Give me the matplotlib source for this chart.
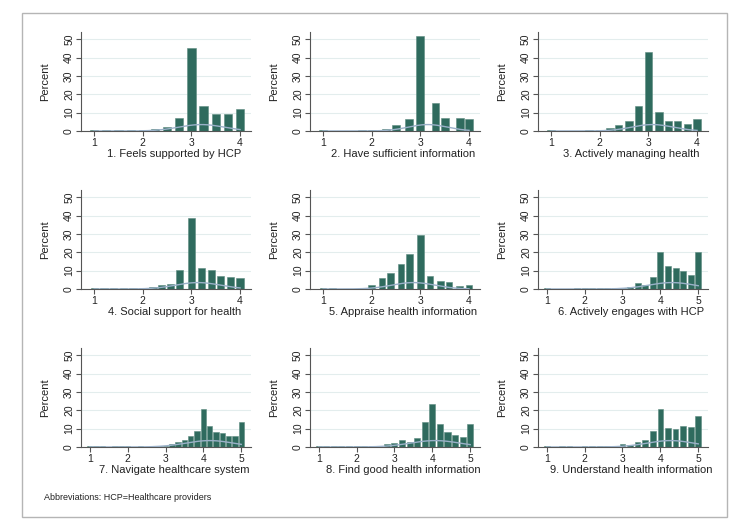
import numpy as np
import matplotlib.pyplot as plt
from matplotlib.patches import Rectangle

plt.rcParams['font.family'] = ['Liberation Sans', 'DejaVu Sans']

# panel titles
titles = ["1. Feels supported by HCP", "2. Have sufficient information", "3. Actively managing health",
          "4. Social support for health", "5. Appraise health information", "6. Actively engages with HCP",
          "7. Navigate healthcare system", "8. Find good health information", "9. Understand health information"]

# scale scores (bar positions) and percent of respondents
supported_x = [1, 1.25, 1.5, 1.75, 2, 2.25, 2.5, 2.75, 3, 3.25, 3.5, 3.75, 4]
supported_pct = [0.3, 0.3, 0.3, 0.3, 0.5, 0.9, 2.4, 7.1, 45.1, 13.5, 9.4, 9.0, 11.9]

information_x = [1, 1.8, 2, 2.3, 2.5, 2.77, 3, 3.31, 3.5, 3.81, 4]
information_pct = [0.3, 0.3, 0.3, 1.3, 3.4, 6.4, 51.7, 15.5, 7.1, 6.9, 6.5]

managing_x = [1, 1.78, 2, 2.21, 2.38, 2.6, 2.8, 3, 3.22, 3.41, 3.6, 3.81, 4]
managing_pct = [0.3, 0.3, 0.6, 1.4, 3.1, 5.6, 13.5, 43.3, 10.1, 5.6, 5.6, 3.8, 6.7]

social_x = [1, 1.2, 1.4, 1.6, 1.8, 2, 2.21, 2.39, 2.57, 2.76, 3, 3.2, 3.41, 3.6, 3.8, 4]
social_pct = [0.3, 0.3, 0.3, 0.3, 0.3, 0.6, 1.1, 2.2, 2.9, 10.1, 38.9, 11.6, 10.5, 7.1, 6.5, 6.2]

appraise_x = [1, 1.2, 1.8, 2, 2.21, 2.39, 2.6, 2.78, 3, 3.2, 3.41, 3.59, 3.8, 4]
appraise_pct = [0.3, 0.4, 0.3, 2.2, 6.2, 8.5, 13.4, 19.2, 29.5, 7.1, 4.5, 3.8, 1.6, 2.4]

engages_x = [1, 1.8, 2, 2.2, 2.4, 2.6, 2.8, 3, 3.2, 3.4, 3.6, 3.8, 4, 4.2, 4.4, 4.6, 4.8, 5]
engages_pct = [0.5, 0.3, 0.3, 0.3, 0.3, 0.5, 0.5, 0.3, 1.0, 3.1, 2.3, 6.3, 20.0, 12.6, 11.3, 9.9, 7.9, 20.0]

navigate_x = [1, 1.167, 1.333, 1.667, 1.833, 2, 2.333, 2.667, 2.833, 3, 3.167, 3.333, 3.5, 3.667, 3.833,
              4, 4.167, 4.333, 4.5, 4.667, 4.833, 5]
navigate_pct = [0.3, 0.3, 0.3, 0.3, 0.3, 0.3, 0.3, 0.3, 0.3, 0.3, 1.6, 2.9, 4.0, 5.8, 8.9,
                20.8, 11.2, 8.0, 7.8, 6.0, 5.8, 13.8]

find_x = [1, 1.2, 1.4, 1.6, 1.8, 2, 2.2, 2.4, 2.6, 2.8, 3, 3.2, 3.4, 3.6, 3.8, 4, 4.2, 4.4, 4.6, 4.8, 5]
find_pct = [0.3, 0.3, 0.3, 0.3, 0.3, 0.3, 0.3, 0.3, 0.3, 1.8, 2.0, 3.6, 2.9, 5.1, 13.8, 23.2, 12.3, 8.3, 6.5, 5.6, 12.7]

understand_x = [1, 1.4, 1.6, 2, 2.2, 2.4, 2.6, 2.8, 3, 3.2, 3.4, 3.6, 3.8, 4, 4.2, 4.4, 4.6, 4.8, 5]
understand_pct = [0.3, 0.3, 0.3, 0.3, 0.3, 0.3, 0.3, 0.3, 1.4, 1.2, 2.5, 3.8, 8.7, 20.8, 10.5, 9.6, 11.4, 10.9, 17.0]

xs = [supported_x, information_x, managing_x, social_x, appraise_x, engages_x, navigate_x, find_x, understand_x]
pcts = [supported_pct, information_pct, managing_pct, social_pct, appraise_pct, engages_pct, navigate_pct, find_pct, understand_pct]
scale_max = [4, 4, 4, 4, 4, 5, 5, 5, 5]

# style
bar_w = [0.17, 0.16, 0.15, 0.15, 0.14, 0.16, 0.14, 0.16, 0.15]
bar_col = '#2f6b5e'
curve_col = '#9ab0c8'
lefts = [0.1098, 0.42, 0.729]
bottoms = [0.7538, 0.4568, 0.1598]
w = 0.23
h = 0.186

fig = plt.figure(figsize=(7.38, 5.32), dpi=100)

for i in range(9):
    ax = fig.add_axes([lefts[i % 3], bottoms[i // 3], w, h])
    x = np.array(xs[i])
    p = np.array(pcts[i])
    ax.bar(x, p, width=bar_w[i], color=bar_col, edgecolor='#5d8c80', linewidth=0.4, zorder=2)
    # normal curve overlay from the data mean and sd
    m = np.sum(x * p) / np.sum(p)
    sd = np.sqrt(np.sum(p * (x - m) ** 2) / np.sum(p))
    xx = np.linspace(x.min(), x.max(), 200)
    ax.plot(xx, 3.5 * np.exp(-0.5 * ((xx - m) / sd) ** 2), color=curve_col, lw=1, zorder=3)
    if scale_max[i] == 4:
        ax.set_xlim(0.73, 4.22)
    else:
        ax.set_xlim(0.77, 5.25)
    ax.set_xticks(range(1, scale_max[i] + 1))
    ax.set_ylim(0, 54)
    ax.set_yticks([0, 10, 20, 30, 40, 50])
    ax.yaxis.grid(True, color='#e3eded', lw=0.8)
    ax.set_axisbelow(True)
    ax.spines['top'].set_visible(False)
    ax.spines['right'].set_visible(False)
    ax.spines['left'].set_color('#555555')
    ax.spines['bottom'].set_color('#555555')
    ax.tick_params(length=3.5, width=0.8, color='#555555', labelsize=7.5, pad=1.5, labelcolor='#222222')
    ax.tick_params(axis='y', labelrotation=90)
    for lab in ax.get_yticklabels():
        lab.set_va('center')
    ax.set_ylabel('Percent', fontsize=8, color='#222222')
    ax.yaxis.set_label_coords(-0.18, 0.5)
    ax.set_xlabel(titles[i], fontsize=8, color='#222222')
    ax.xaxis.set_label_coords(0.55, -0.18)

fig.text(44 / 738, 1 - 498 / 532, 'Abbreviations: HCP=Healthcare providers', fontsize=6.5, va='center', color='#222222')
fig.add_artist(Rectangle((22 / 738, 1 - 517 / 532), 705 / 738, 504 / 532, transform=fig.transFigure,
                         fill=False, edgecolor='#b5b5b5', lw=1))

fig.savefig('out.png', dpi=100)
